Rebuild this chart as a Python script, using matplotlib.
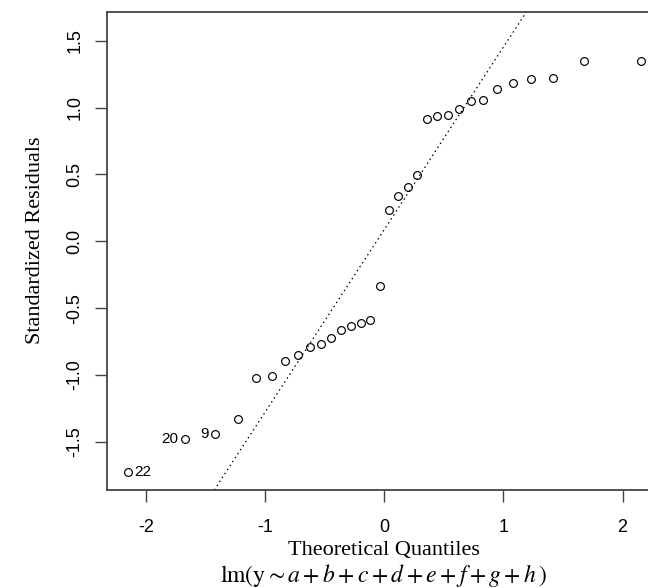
"""
Normal Q-Q plot of standardized residuals (R plot.lm style, which = 2).
"""
import matplotlib

matplotlib.use("Agg")
import matplotlib.pyplot as plt  # noqa: E402

# theoretical quantiles (x) and standardized residuals (y)
theo_q = [-2.154, -1.676, -1.418, -1.229, -1.077, -0.947, -0.831, -0.725,
          -0.626, -0.534, -0.445, -0.360, -0.278, -0.197, -0.118, -0.039,
          0.039, 0.118, 0.197, 0.278, 0.360, 0.445, 0.534, 0.626,
          0.725, 0.831, 0.947, 1.077, 1.229, 1.418, 1.676, 2.154]
std_resid = [-1.729, -1.479, -1.442, -1.332, -1.025, -1.007, -0.895, -0.852,
             -0.793, -0.768, -0.721, -0.665, -0.635, -0.608, -0.590, -0.331,
             0.236, 0.336, 0.406, 0.493, 0.918, 0.935, 0.942, 0.990,
             1.047, 1.055, 1.140, 1.185, 1.215, 1.222, 1.352, 1.352]

# flagged observations: (label, index into the sorted arrays, side)
flagged = [("22", 0, "right"), ("20", 1, "left"), ("9", 2, "left")]

# qqline through the quartiles
line_pts = [(-0.6745, -0.832), (0.6745, 1.010)]

x_ticks = [-2, -1, 0, 1, 2]
y_ticks = [-1.5, -1.0, -0.5, 0.0, 0.5, 1.0, 1.5]
XLIM, YLIM = (-2.326, 2.326), (-1.861, 1.716)

plt.rcParams["mathtext.fontset"] = "stix"
SANS = ["Liberation Sans", "DejaVu Sans"]
SERIF = ["Liberation Serif", "DejaVu Serif"]
FRAME = "#444444"

fig = plt.figure(figsize=(6.48, 5.88), dpi=100)
# the plot region runs past the right edge of the image, as in the source
ax = fig.add_axes([0.1656, 0.1667, 0.8551, 0.8129])

ax.axline(line_pts[0], line_pts[1], color="black", lw=0.9,
          ls=(0, (1.2, 2.6)), zorder=1)
ax.plot(theo_q, std_resid, ls="none", marker="o", ms=5.6, mfc="none",
        mec="black", mew=0.85, zorder=2)

for lab, i, side in flagged:
    dx = 4.5 if side == "right" else -4.5
    ax.annotate(lab, (theo_q[i], std_resid[i]), xytext=(dx, 0),
                textcoords="offset points", ha="left" if side == "right" else "right",
                va="center", fontsize=11, family=SANS)

ax.set_xlim(*XLIM)
ax.set_ylim(*YLIM)
ax.set_xticks(x_ticks)
ax.set_xticklabels([f"{t:g}" for t in x_ticks], family=SANS, fontsize=13)
ax.set_yticks(y_ticks)
ax.set_yticklabels([f"{t:.1f}" for t in y_ticks], family=SANS, fontsize=13,
                   rotation=90, va="center")
ax.tick_params(direction="out", length=8.5, width=1.0, color=FRAME)
ax.tick_params(axis="x", pad=12.5)
ax.tick_params(axis="y", pad=8.5)
for sp in ax.spines.values():
    sp.set_color(FRAME)
    sp.set_linewidth(1.3)

fig.text(0.055, 0.592, "Standardized Residuals", family=SERIF, fontsize=16,
         rotation=90, ha="center", va="center")
fig.text(0.5925, 0.0646, "Theoretical Quantiles", family=SERIF, fontsize=16,
         ha="center", va="center")
fig.text(0.5925, 0.022,
         r"$\mathrm{lm(y} \sim a + b + c + d + e + f + g + h\,\mathrm{)}$",
         fontsize=17, ha="center", va="center")

fig.savefig("out.png", dpi=100)
